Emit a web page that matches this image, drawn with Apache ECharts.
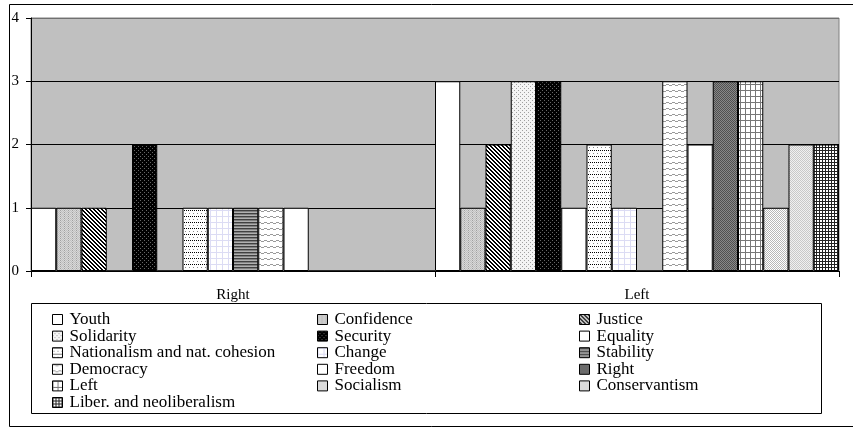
<!DOCTYPE html>
<html><head><meta charset="utf-8">
<script src="https://cdn.jsdelivr.net/npm/echarts@6/dist/echarts.min.js"></script>
<style>html,body{margin:0;padding:0;background:#fff}#c{width:853px;height:428px}</style>
</head><body><div id="c"></div>
<script>
// ---- data ----
const categories = ['Right', 'Left'];
const seriesNames = ['Youth','Confidence','Justice','Solidarity','Security','Equality',
  'Nationalism and nat. cohesion','Change','Stability','Democracy','Freedom','Right',
  'Left','Socialism','Conservantism','Liber. and neoliberalism'];
const youth = [1, 3];
const confidence = [1, 1];
const justice = [1, 2];
const solidarity = [0, 3];
const security = [2, 3];
const equality = [0, 1];
const nationalism = [1, 2];
const change = [1, 1];
const stability = [1, 0];
const democracy = [1, 3];
const freedom = [1, 2];
const rightV = [0, 3];
const leftV = [0, 3];
const socialism = [0, 1];
const conservantism = [0, 2];
const liber = [0, 2];
const seriesValues = [youth, confidence, justice, solidarity, security, equality,
  nationalism, change, stability, democracy, freedom, rightV, leftV, socialism, conservantism, liber];
const yTicks = [0, 1, 2, 3, 4];
const legendCols = [
  ['Youth','Solidarity','Nationalism and nat. cohesion','Democracy','Left','Liber. and neoliberalism'],
  ['Confidence','Security','Change','Freedom','Socialism'],
  ['Justice','Equality','Stability','Right','Conservantism']
];

// ---- patterns (style only) ----
function pat(w, h, bg, fn) {
  const c = document.createElement('canvas'); c.width = w; c.height = h;
  const g = c.getContext('2d'); g.fillStyle = bg; g.fillRect(0, 0, w, h);
  for (let y = 0; y < h; y++) for (let x = 0; x < w; x++) {
    const col = fn(x, y); if (col) { g.fillStyle = col; g.fillRect(x, y, 1, 1); }
  }
  return { image: c, repeat: 'repeat' };
}
const fills = [
  '#ffffff',
  pat(4, 4, '#d8d8d8', (x, y) => ((x + y) % 2 === 0) ? (((x + 2 * y) % 4 === 0) ? '#a0a0a0' : '#c0c0c0') : null),
  pat(4, 4, '#ffffff', (x, y) => ((x - y + 8) % 4 < 2) ? '#000' : null),
  pat(4, 4, '#f4f4f4', (x, y) => ((x % 4 === 0 && y % 4 === 0) || (x % 4 === 2 && y % 4 === 2)) ? '#a0a0a0' : null),
  pat(4, 4, '#000000', (x, y) => ((x % 4 === 0 && y % 4 === 0) || (x % 4 === 2 && y % 4 === 2)) ? '#666' : null),
  '#ffffff',
  pat(4, 6, '#ffffff', (x, y) => (y === 0 && x % 2 === 0) ? '#000' : (y === 3 && x % 4 === 1 ? '#888' : null)),
  pat(6, 6, '#ffffff', (x, y) => (x === 0 || y === 0) ? '#dcdcf4' : null),
  pat(3, 3, '#b0b0b0', (x, y) => (y === 0) ? '#404040' : (y === 1 ? '#808080' : null)),
  pat(6, 6, '#ffffff', (x, y) => ((y === 0 && x < 3) || (y === 1 && x >= 3)) ? '#999' : null),
  '#ffffff',
  pat(2, 2, '#888888', (x, y) => ((x + y) % 2 === 0) ? '#505050' : null),
  pat(5, 6, '#ffffff', (x, y) => (x === 0 || y === 0) ? '#777' : null),
  pat(4, 4, '#ffffff', (x, y) => ((x + y) % 2 === 0) ? '#b8b8b8' : null),
  pat(2, 2, '#f0f0f0', (x, y) => ((x + y) % 2 === 0) ? '#c8c8c8' : null),
  pat(3, 3, '#ffffff', (x, y) => (x === 0 || y === 0) ? '#222' : null)
];

const font = "'Liberation Serif', 'Times New Roman', serif";
const chart = echarts.init(document.getElementById('c'), null, { renderer: 'canvas' });

const series = seriesNames.map((n, i) => ({
  name: n, type: 'bar', data: seriesValues[i],
  barGap: '0%', barCategoryGap: '0%',
  itemStyle: { color: fills[i], borderColor: '#000', borderWidth: 1 },
  emphasis: { disabled: true }, animation: false
}));

const legends = legendCols.map((col, k) => ({
  data: col, orient: 'vertical', left: [52, 317, 579][k], top: 311,
  itemWidth: 10, itemHeight: 10, itemGap: -0.4, selectedMode: false,
  icon: 'rect', padding: 0,
  itemStyle: { borderColor: '#000', borderWidth: 1 },
  textStyle: { fontFamily: font, fontSize: 17, lineHeight: 16, color: '#000', padding: [0, 0, 0, 2] }
}));

chart.setOption({
  animation: false,
  backgroundColor: '#fff',
  grid: { left: 31, right: 14, top: 18, bottom: 157, show: true, backgroundColor: '#c0c0c0', borderColor: '#808080', borderWidth: 1 },
  legend: legends,
  xAxis: {
    type: 'category', data: categories,
    axisLine: { lineStyle: { color: '#000', width: 1 } },
    axisTick: { show: true, length: 6, lineStyle: { color: '#000' } },
    axisLabel: { fontFamily: font, fontSize: 15, color: '#000', margin: 17 },
    splitLine: { show: false }
  },
  yAxis: {
    type: 'value', min: yTicks[0], max: yTicks[yTicks.length - 1], interval: 1,
    axisLine: { show: true, lineStyle: { color: '#000', width: 1 } },
    axisTick: { show: true, length: 5, lineStyle: { color: '#000' } },
    axisLabel: { fontFamily: font, fontSize: 15, color: '#000', margin: 12 },
    splitLine: { show: true, lineStyle: { color: ['#000', '#000', '#000', '#000', '#707070'], width: 1 } }
  },
  graphic: [
    { type: 'rect', silent: true, shape: { x: 9.5, y: 4.5, width: 900, height: 422 }, style: { fill: 'none', stroke: '#000', lineWidth: 1 } },
    { type: 'rect', silent: true, shape: { x: 31.5, y: 303.5, width: 790, height: 110 }, style: { fill: 'none', stroke: '#000', lineWidth: 1 } }
  ],
  series: series
});
</script>
</body></html>
